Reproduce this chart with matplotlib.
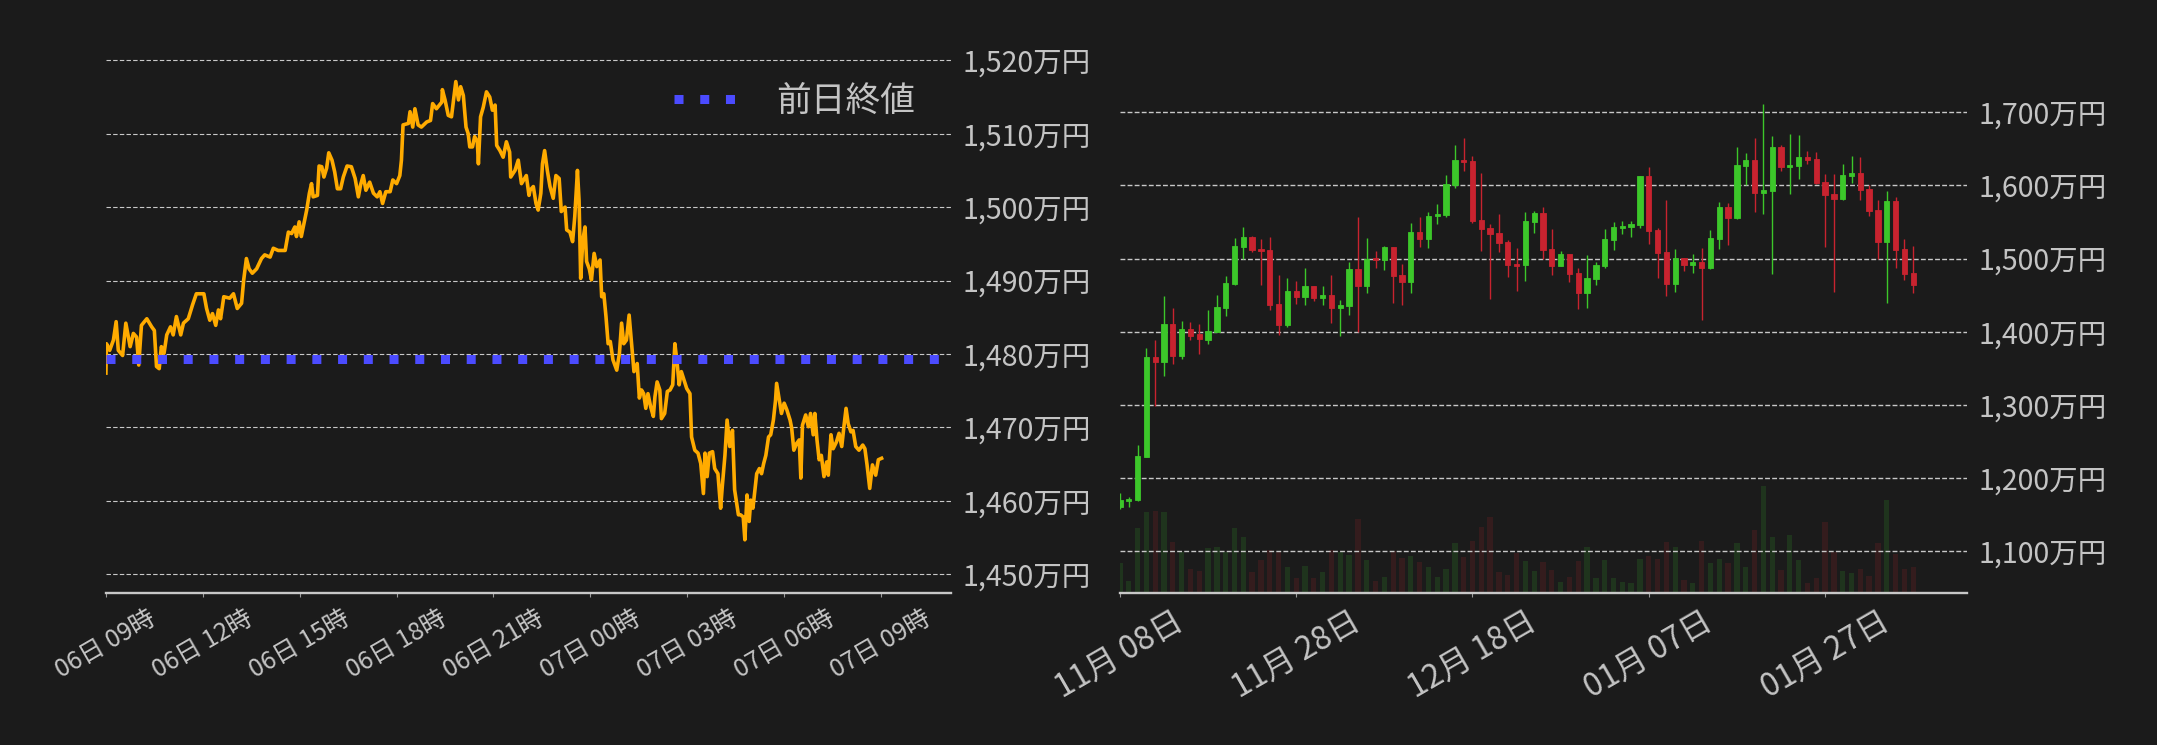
import matplotlib
matplotlib.use('Agg')
import matplotlib.pyplot as plt
import matplotlib.dates as mdates
import pandas as pd

plt.rcParams['font.family'] = ['Noto Sans CJK JP', 'DejaVu Sans']

BG = '#1b1b1b'
TXT = '#c4c4c4'
GRID = '#c8c8c8'
ORANGE = '#ffab00'
BLUE = '#4b4bff'
UP = '#3cc72a'
DOWN = '#c8232f'

# ---------------- intraday (left) ----------------
intraday_minutes = [
    0, 1, 7, 14, 19, 23, 31, 37, 45, 51, 57, 61, 66, 76, 85, 90, 94, 99, 103, 108,
    113, 120, 125, 131, 139, 144, 153, 161, 168, 182, 187, 193, 198, 204, 209, 213, 219, 230, 237, 244,
    252, 256, 261, 266, 272, 280, 289, 295, 305, 311, 320, 333, 339, 345, 351, 354, 359, 363, 368, 373,
    378, 382, 385, 393, 396, 401, 405, 410, 414, 420, 425, 430, 436, 441, 448, 456, 463, 469, 473, 478,
    483, 490, 497, 504, 509, 514, 520, 528, 533, 540, 546, 549, 552, 562, 565, 570, 574, 580, 586, 596,
    603, 607, 614, 624, 625, 630, 636, 642, 645, 650, 655, 659, 664, 669, 673, 676, 681, 685, 690, 692,
    696, 701, 707, 713, 718, 723, 726, 732, 738, 744, 750, 752, 760, 766, 772, 781, 786,
    788, 794, 799, 803, 808, 811, 815, 820, 825, 831, 836, 842, 846, 853, 856, 862, 867, 871, 876, 879,
    882, 886, 890, 893, 898, 902, 907, 912, 918, 921, 925, 929, 933, 937, 942, 949, 954, 958, 962, 967,
    972, 976, 981, 987, 991, 995, 999, 1003, 1007, 1012, 1017, 1020, 1024, 1029, 1032, 1038, 1043, 1048, 1053, 1057,
    1061, 1065, 1069, 1072, 1079, 1085, 1088, 1094, 1100, 1105, 1110, 1113, 1117, 1121, 1127, 1131, 1137, 1142, 1145, 1150,
    1154, 1159, 1164, 1168, 1175, 1179, 1184, 1187, 1191, 1195, 1198, 1202, 1209, 1214, 1218, 1222, 1226, 1231, 1235, 1240,
    1244, 1246, 1251, 1255, 1260, 1265, 1271, 1274, 1278, 1283, 1288, 1291, 1294, 1300, 1305, 1309, 1314, 1317, 1321, 1325,
    1329, 1334, 1339, 1342, 1347, 1351, 1357, 1362, 1367, 1371, 1375, 1379, 1384, 1388, 1393, 1399, 1406, 1410, 1414, 1419,
    1424, 1430, 1435, 1441,
]
intraday_price = [
    1477.4, 1481.4, 1480.5, 1481.9, 1484.4, 1480.5, 1479.8, 1484.2, 1481.0, 1482.8, 1482.3, 1478.5, 1483.9, 1484.8, 1483.7, 1483.2, 1478.3, 1478.0, 1481.0, 1480.1,
    1482.6, 1483.7, 1482.6, 1485.1, 1482.6, 1484.2, 1484.8, 1486.7, 1488.2, 1488.2, 1486.2, 1484.6, 1485.5, 1483.9, 1486.0, 1484.8, 1487.8, 1487.6, 1488.2, 1486.2,
    1486.9, 1490.1, 1493.0, 1491.6, 1491.0, 1491.6, 1493.0, 1493.5, 1493.2, 1494.4, 1494.1, 1494.1, 1496.6, 1496.4, 1497.3, 1496.0, 1498.0, 1496.0, 1497.8, 1499.6,
    1501.9, 1503.2, 1501.4, 1501.6, 1505.6, 1505.5, 1504.1, 1505.3, 1507.4, 1506.4, 1504.8, 1502.5, 1502.5, 1504.1, 1505.6, 1505.5, 1503.9, 1501.4, 1503.0, 1504.3,
    1502.3, 1503.4, 1501.9, 1501.4, 1502.1, 1500.5, 1502.1, 1502.1, 1503.7, 1503.2, 1504.3, 1506.4, 1511.2, 1511.4, 1513.0, 1510.9, 1513.4, 1511.2, 1510.9, 1511.6,
    1511.8, 1514.1, 1513.4, 1514.3, 1516.0, 1514.6, 1512.5, 1512.3, 1514.1, 1517.1, 1514.6, 1516.4, 1515.2, 1510.9, 1510.0, 1508.2, 1508.2, 1509.6, 1508.9, 1505.9,
    1512.3, 1513.6, 1515.7, 1515.0, 1513.2, 1513.9, 1508.4, 1507.7, 1506.8, 1508.9, 1507.5, 1504.1, 1505.0, 1506.4, 1503.2, 1504.3, 1501.6,
    1502.3, 1502.8, 1500.5, 1499.6, 1501.9, 1505.9, 1507.7, 1505.0, 1502.8, 1501.2, 1504.3, 1503.9, 1499.4, 1500.0, 1496.9, 1496.6, 1495.3, 1498.7, 1505.0, 1500.9,
    1490.3, 1495.5, 1497.3, 1492.6, 1491.6, 1490.1, 1493.7, 1491.9, 1492.8, 1487.8, 1488.2, 1485.1, 1481.4, 1481.7, 1479.2, 1477.8, 1480.1, 1484.2, 1481.4, 1481.9,
    1485.3, 1481.9, 1477.6, 1478.7, 1474.0, 1475.1, 1474.6, 1472.6, 1474.6, 1472.8, 1471.5, 1474.2, 1476.2, 1475.1, 1471.2, 1471.9, 1474.9, 1475.1, 1475.8, 1481.4,
    1478.9, 1475.8, 1477.6, 1476.9, 1475.3, 1474.6, 1468.7, 1466.9, 1466.5, 1465.1, 1461.0, 1466.5, 1463.3, 1466.5, 1466.7, 1464.4, 1463.7, 1459.0, 1461.9, 1466.2,
    1471.0, 1467.4, 1469.6, 1461.5, 1458.1, 1458.1, 1457.8, 1454.7, 1460.8, 1457.2, 1460.1, 1459.0, 1463.7, 1464.4, 1463.7, 1465.1, 1466.2, 1468.7, 1469.0, 1471.0,
    1473.7, 1476.0, 1473.7, 1471.9, 1473.3, 1472.4, 1471.0, 1469.9, 1466.9, 1467.8, 1468.3, 1463.1, 1470.3, 1471.7, 1470.1, 1471.9, 1469.0, 1471.9, 1468.3, 1465.6,
    1466.2, 1463.3, 1465.3, 1463.5, 1469.0, 1467.1, 1468.0, 1469.2, 1467.4, 1470.1, 1472.6, 1470.5, 1469.4, 1469.6, 1467.4, 1466.9, 1467.6, 1467.1, 1464.9, 1461.7,
    1464.9, 1463.5, 1465.6, 1465.8,
]
prev_close = 1479.3
intraday_ticks = [0, 180, 360, 540, 720, 900, 1080, 1260, 1440]
intraday_ticklabels = ['06日 09時', '06日 12時', '06日 15時', '06日 18時', '06日 21時',
                       '07日 00時', '07日 03時', '07日 06時', '07日 09時']
intraday_yticks = [1450, 1460, 1470, 1480, 1490, 1500, 1510, 1520]
intraday_yticklabels = ['1,450万円', '1,460万円', '1,470万円', '1,480万円',
                        '1,490万円', '1,500万円', '1,510万円', '1,520万円']
legend_label = '前日終値'

# ---------------- daily candles (right) ----------------
dates = pd.date_range('2024-11-08', periods=91, freq='D')
opens = [
    1161, 1169, 1170, 1229.4, 1365.6, 1359.2, 1410.7, 1367.4, 1403.9, 1397,
    1389.3, 1399.8, 1433, 1465.8, 1516.4, 1529.6, 1513.2, 1511.8, 1438, 1409.3,
    1455.8, 1448.1, 1462.6, 1446.7, 1450.3, 1433, 1435.8, 1485.9, 1463.1, 1500.5,
    1497.7, 1515.5, 1477.2, 1468.6, 1536.4, 1527.3, 1557.9, 1559.7, 1600.7, 1634.9,
    1633.5, 1552.8, 1541.9, 1535.1, 1522.8, 1492.7, 1491.3, 1550.1, 1562.4, 1513.2,
    1490, 1506.4, 1480.4, 1453.1, 1472.2, 1490, 1525.5, 1541.9, 1543.3, 1546,
    1613, 1539.2, 1509.1, 1465.4, 1500.9, 1491.3, 1495.5, 1487.2, 1526.9, 1570.6,
    1555.6, 1626.7, 1634.9, 1589.7, 1592.5, 1652.6, 1625.3, 1626.7, 1639, 1636.2,
    1604.8, 1588.4, 1581.5, 1613, 1617.1, 1595.2, 1566.5, 1522.8, 1578.8, 1513.2,
    1480.4,
]
closes = [
    1170, 1171, 1230.3, 1365.6, 1359.2, 1410.7, 1367.4, 1403.9, 1394.8, 1390.7,
    1401.1, 1433.9, 1466.7, 1517.3, 1529.6, 1512.3, 1510.9, 1436.7, 1409.3, 1455.8,
    1448.1, 1462.6, 1446.2, 1450.3, 1433, 1436.7, 1485.9, 1463.1, 1499.5, 1497.7,
    1515.5, 1476.8, 1468.6, 1536.4, 1527.3, 1558.3, 1561, 1602.1, 1634.9, 1632.1,
    1551.5, 1541, 1534.2, 1521.9, 1491.8, 1490.4, 1551.5, 1562.4, 1511.8, 1490,
    1506.4, 1479, 1453.1, 1473.6, 1491.3, 1526.9, 1543.3, 1544.6, 1547.4, 1613,
    1537.8, 1507.7, 1465.4, 1500.9, 1491.3, 1495.5, 1487.2, 1528.2, 1570.6, 1555.6,
    1628, 1634.9, 1589.7, 1593.8, 1652.6, 1625.3, 1628, 1639, 1634.9, 1603.4,
    1587, 1581.5, 1614.4, 1617.1, 1593.8, 1565.1, 1522.8, 1578.8, 1511.8, 1479,
    1464,
]
highs = [
    1179, 1174, 1245.3, 1377.4, 1388.8, 1449, 1432.6, 1414.8, 1413.4, 1410.7,
    1429.8, 1450.3, 1476.3, 1528.2, 1543.3, 1531.4, 1526.9, 1529.6, 1477.7, 1473.6,
    1469.5, 1487.2, 1462.6, 1462.6, 1477.7, 1443.5, 1495.9, 1557, 1527.8, 1510.5,
    1517.3, 1515.5, 1492.3, 1548.7, 1557, 1563.8, 1574.7, 1614.4, 1655.4, 1664.9,
    1640.3, 1617.1, 1547.4, 1561, 1525.5, 1514.6, 1563.8, 1565.1, 1570.6, 1540.5,
    1510.5, 1506.4, 1487.2, 1505, 1495.5, 1540.5, 1550.1, 1551.5, 1551.5, 1613,
    1625.3, 1541.9, 1580.2, 1513.2, 1500.9, 1506.4, 1514.6, 1539.2, 1577.4, 1576.1,
    1652.6, 1644.4, 1664.9, 1711.4, 1667.7, 1655.4, 1670.4, 1669, 1647.2, 1645.8,
    1615.7, 1615.7, 1629.4, 1640.3, 1639, 1600.7, 1580.2, 1592.5, 1584.3, 1526.9,
    1517.3,
]
lows = [
    1158, 1161, 1168.8, 1229, 1299, 1339.6, 1356.5, 1362.9, 1388.8, 1369.7,
    1383.8, 1399, 1422.1, 1464, 1500, 1509.6, 1464, 1429.8, 1395.7, 1406.6,
    1438, 1436.7, 1442.1, 1436.7, 1412.5, 1394.8, 1423, 1400, 1453.5, 1487.7,
    1485, 1439.9, 1436.7, 1453.5, 1516, 1514.6, 1547.4, 1557, 1597, 1619.8,
    1548.7, 1510.5, 1444.9, 1509.6, 1475.4, 1455.8, 1469.5, 1535.1, 1499.5, 1477.7,
    1490, 1468.1, 1431.2, 1432.6, 1464, 1487.2, 1511.8, 1533.7, 1529.6, 1541.9,
    1520, 1473.6, 1449, 1454.4, 1483.1, 1480.4, 1416.2, 1485.9, 1513.2, 1518.7,
    1554.2, 1600.7, 1563.8, 1561, 1479, 1619.8, 1588.4, 1608.9, 1629.4, 1602,
    1516, 1454.4, 1580.2, 1603.4, 1580.2, 1558.3, 1499.5, 1439.4, 1487.2, 1470.8,
    1453.1,
]
volumes = [
    90, 36, 195, 243, 246, 243, 153, 123, 72, 66,
    135, 138, 123, 195, 168, 63, 99, 129, 123, 78,
    45, 81, 45, 63, 129, 123, 114, 222, 99, 36,
    48, 126, 105, 111, 93, 78, 48, 72, 150, 108,
    156, 198, 228, 63, 54, 120, 96, 66, 93, 69,
    33, 48, 96, 138, 45, 99, 45, 33, 30, 102,
    111, 102, 153, 138, 39, 30, 156, 90, 102, 90,
    150, 78, 189, 321, 168, 69, 174, 99, 30, 45,
    213, 123, 66, 60, 72, 51, 150, 279, 117, 72,
    78,
]
daily_tick_dates = ['2024-11-08', '2024-11-28', '2024-12-18', '2025-01-07', '2025-01-27']
daily_ticklabels = ['11月 08日', '11月 28日', '12月 18日', '01月 07日', '01月 27日']
daily_yticks = [1100, 1200, 1300, 1400, 1500, 1600, 1700]
daily_yticklabels = ['1,100万円', '1,200万円', '1,300万円', '1,400万円',
                     '1,500万円', '1,600万円', '1,700万円']

# ---------------- figure ----------------
fig = plt.figure(figsize=(21.57, 7.45), dpi=100, facecolor=BG)

def style_axes(ax, grid_lw, grid_dash):
    ax.set_facecolor(BG)
    for s in ['top', 'left', 'right']:
        ax.spines[s].set_visible(False)
    ax.spines['bottom'].set_color('#c8c8c8')
    ax.spines['bottom'].set_linewidth(1.7)
    ax.yaxis.tick_right()
    ax.tick_params(axis='y', length=0, pad=8, labelsize=20.5, labelcolor=TXT)
    ax.tick_params(axis='x', length=3, width=0.8, color='#9a9a9a', labelcolor=TXT)
    ax.grid(axis='y', color=GRID, linestyle=grid_dash, linewidth=grid_lw)
    ax.grid(axis='x', visible=False)
    ax.set_axisbelow(True)

# Left
axL = fig.add_axes([0.0491, 0.2040, 0.3918, 0.7289])
style_axes(axL, 0.8, (0, (4, 2)))
axL.plot(intraday_minutes, intraday_price, color=ORANGE, lw=2.6,
         solid_joinstyle='round', zorder=3)
axL.plot([0, 1570], [prev_close, prev_close], color=BLUE, lw=6.5,
         linestyle=(0, (1, 1.85)), dash_capstyle='butt', zorder=4, label=legend_label)
axL.set_xlim(0, 1570)
axL.set_ylim(1447.45, 1521.4)
axL.set_yticks(intraday_yticks)
axL.set_yticklabels(intraday_yticklabels)
axL.set_xticks(intraday_ticks)
axL.set_xticklabels(intraday_ticklabels, rotation=30, fontsize=18)
axL.tick_params(axis='x', pad=6)
leg = axL.legend(loc='upper right', bbox_to_anchor=(0.995, 0.995), frameon=False,
                 fontsize=25, handlelength=1.8, handletextpad=1.15, labelcolor=TXT)

# Right
x0 = mdates.date2num(dates[0])
xs = [mdates.date2num(d) for d in dates]
axR = fig.add_axes([0.5192, 0.2040, 0.3927, 0.7289])
axV = axR.twinx()
axR.set_zorder(axV.get_zorder() + 1)
axR.patch.set_visible(False)
axV.set_facecolor(BG)
for s in ['top', 'left', 'right', 'bottom']:
    axV.spines[s].set_visible(False)
axV.set_yticks([])
style_axes(axR, 1.0, (0, (3.5, 1.6)))

vcolors = [(UP if c >= o else DOWN) for o, c in zip(opens, closes)]
axV.bar(xs, volumes, width=0.6, color=vcolors, alpha=0.15, linewidth=0)
axV.set_ylim(0, 1629)

for x, o, h, l, c in zip(xs, opens, highs, lows, closes):
    col = UP if c >= o else DOWN
    axR.vlines(x, l, h, color=col, lw=1.0, zorder=3)
    bottom = min(o, c)
    height = max(abs(c - o), 2.5)
    axR.bar(x, height, bottom=bottom, width=0.6, color=col, edgecolor=col,
            linewidth=0.6, zorder=4)

axR.set_xlim(x0, x0 + 96.1)
axR.set_ylim(1043, 1785)
axR.set_yticks(daily_yticks)
axR.set_yticklabels(daily_yticklabels)
axR.set_xticks([mdates.date2num(pd.Timestamp(d)) for d in daily_tick_dates])
axR.set_xticklabels(daily_ticklabels, rotation=30, fontsize=23)
axR.tick_params(axis='x', pad=6)

fig.savefig('out.png', dpi=100, facecolor=BG)
